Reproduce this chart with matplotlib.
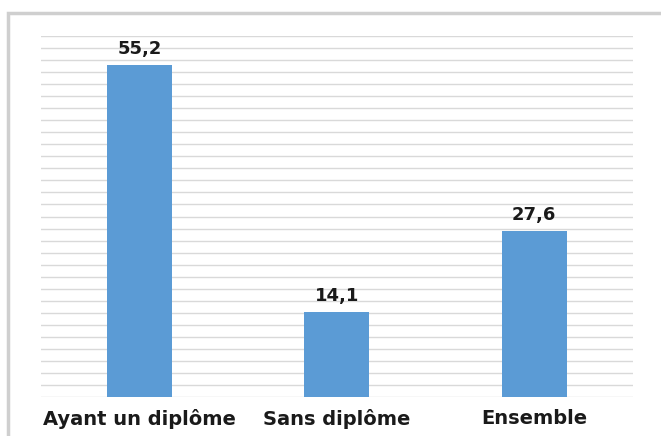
import matplotlib
matplotlib.use("Agg")
import matplotlib.pyplot as plt
from matplotlib.patches import Rectangle

categories = ["Ayant un diplôme", "Sans diplôme", "Ensemble"]
values = [55.2, 14.1, 27.6]
value_labels = ["55,2", "14,1", "27,6"]

fig = plt.figure(figsize=(6.61, 4.36), dpi=100)
fig.patch.set_facecolor("white")

# outer chart frame (cut at right/bottom like the reference)
frame = Rectangle((8 / 661, -0.05), 1.2, 1 - 13 / 436 + 0.05,
                  transform=fig.transFigure, fill=False,
                  edgecolor="#cfcfcf", linewidth=2.5)
fig.patches.append(frame)

ax = fig.add_axes([40.75 / 661, 39 / 436, 592.25 / 661, 361 / 436])
x = range(len(categories))
ax.bar(x, values, width=0.33, color="#5B9BD5", zorder=3)
ax.set_xlim(-0.5, 2.5)
ax.set_ylim(0, 60)
ax.set_yticks(range(0, 61, 2))
ax.yaxis.grid(True, color="#d9d9d9", linewidth=1.0, zorder=0)
ax.tick_params(axis="y", left=False, labelleft=False)
ax.tick_params(axis="x", bottom=False, pad=5)
ax.set_xticks(list(x))
ax.set_xticklabels(categories, fontsize=14, fontweight="bold", color="#1a1a1a")
for s in ax.spines.values():
    s.set_visible(False)

for xi, v, lab in zip(x, values, value_labels):
    ax.annotate(lab, (xi, v), xytext=(0, 5), textcoords="offset points",
                ha="center", va="bottom", fontsize=13, fontweight="bold",
                color="#1a1a1a")

fig.savefig("out.png", dpi=100)
